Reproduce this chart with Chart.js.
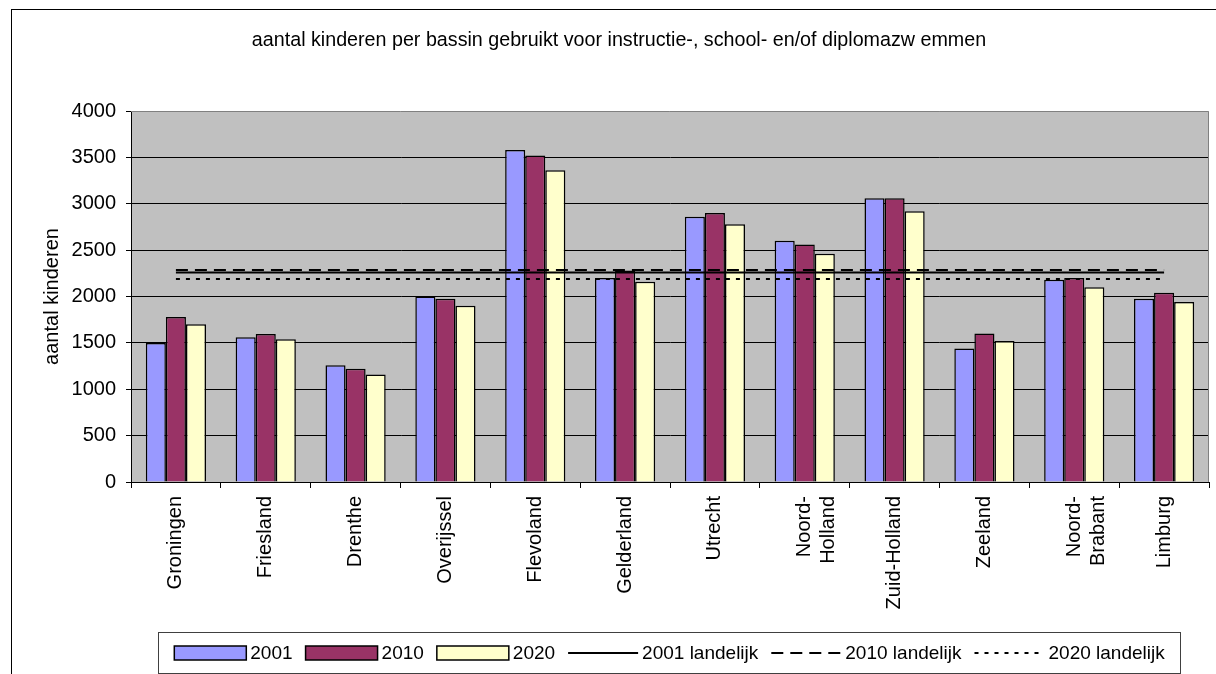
<!DOCTYPE html>
<html>
<head>
<meta charset="utf-8">
<script src="https://cdn.jsdelivr.net/npm/chart.js@4.4.1/dist/chart.umd.min.js"></script>
<style>
  html, body { margin: 0; padding: 0; background: #fff; }
  #wrap { width: 1216px; height: 674px; position: relative; }
</style>
</head>
<body>
<div id="wrap"><canvas id="chart" width="1216" height="674"></canvas></div>
<script>
const provinces = ['Groningen', 'Friesland', 'Drenthe', 'Overijssel', 'Flevoland', 'Gelderland',
    'Utrecht', ['Noord-', 'Holland'], 'Zuid-Holland', 'Zeeland', ['Noord-', 'Brabant'], 'Limburg'];
const kids2001 = [1500, 1560, 1260, 2000, 3580, 2200, 2860, 2600, 3060, 1440, 2180, 1975];
const kids2010 = [1780, 1595, 1220, 1975, 3520, 2280, 2900, 2560, 3060, 1600, 2200, 2040];
const kids2020 = [1700, 1540, 1160, 1900, 3360, 2160, 2780, 2460, 2920, 1520, 2100, 1940];
const landelijk2001 = [2260, 2260, 2260, 2260, 2260, 2260, 2260, 2260, 2260, 2260, 2260, 2260];
const landelijk2010 = [2285, 2285, 2285, 2285, 2285, 2285, 2285, 2285, 2285, 2285, 2285, 2285];
const landelijk2020 = [2190, 2190, 2190, 2190, 2190, 2190, 2190, 2190, 2190, 2190, 2190, 2190];
const yTicks = [0, 500, 1000, 1500, 2000, 2500, 3000, 3500, 4000];

const chartTitle = 'aantal kinderen per bassin gebruikt voor instructie-, school- en/of diplomazw emmen';
const FONT = 'Liberation Sans, Arial, sans-serif';

// frame, plot background, title and legend box like the spreadsheet chart
const frame = {
    id: 'frame',
    beforeDraw(chart) {
        const c = chart.ctx, a = chart.chartArea;
        c.save();
        c.strokeStyle = '#000';
        c.lineWidth = 1;
        c.strokeRect(11.5, 9.5, 1400, 900);
        c.fillStyle = '#c0c0c0';
        c.fillRect(a.left, a.top, a.right - a.left, a.bottom - a.top);
        c.fillStyle = '#000';
        c.font = '19.7px ' + FONT;
        c.textAlign = 'center';
        c.textBaseline = 'middle';
        c.fillText(chartTitle, 619, 41);
        c.restore();
    },
    afterDatasetsDraw(chart) {
        const c = chart.ctx, a = chart.chartArea;
        c.save();
        c.strokeStyle = '#808080';
        c.lineWidth = 1;
        c.beginPath();
        c.moveTo(a.left, a.top + 0.5);
        c.lineTo(a.right - 0.5, a.top + 0.5);
        c.lineTo(a.right - 0.5, a.bottom);
        c.stroke();
        c.restore();
    },
    afterDraw(chart) {
        const c = chart.ctx;
        const box = {x: 158.5, y: 632.5, w: 1022, h: 41};
        c.save();
        c.strokeStyle = '#404040';
        c.lineWidth = 1;
        c.strokeRect(box.x, box.y, box.w, box.h);
        c.font = '19px ' + FONT;
        c.textBaseline = 'middle';
        c.textAlign = 'left';
        const cy = box.y + box.h / 2;
        const items = chart.data.datasets.map(ds => ({ds, sw: ds.type === 'line' ? 70 : 72, tw: c.measureText(ds.label).width}));
        const total = items.reduce((s, it) => s + it.sw + 4 + it.tw, 0) + 13 * (items.length - 1);
        let x = box.x + (box.w - total) / 2;
        items.forEach(it => {
            const ds = it.ds;
            if (ds.type === 'line') {
                c.strokeStyle = ds.borderColor;
                c.lineWidth = ds.borderWidth;
                c.setLineDash(ds.borderDash || []);
                c.beginPath();
                c.moveTo(x, cy);
                c.lineTo(x + it.sw, cy);
                c.stroke();
                c.setLineDash([]);
            } else {
                c.fillStyle = ds.backgroundColor;
                c.fillRect(x, cy - 7, it.sw, 14);
                c.strokeStyle = '#000';
                c.lineWidth = 1.5;
                c.strokeRect(x, cy - 7, it.sw, 14);
            }
            x += it.sw + 4;
            c.fillStyle = '#000';
            c.fillText(ds.label, x, cy + 1);
            x += it.tw + 13;
        });
        c.restore();
    }
};

const ctx = document.getElementById('chart').getContext('2d');
const barStyle = {borderColor: '#000', borderWidth: 1.5, categoryPercentage: 0.67, barPercentage: 1, order: 1};
const lineStyle = {type: 'line', borderColor: '#000', borderWidth: 2, pointRadius: 0, fill: false, order: 0};

new Chart(ctx, {
    type: 'bar',
    data: {
        labels: provinces,
        datasets: [
            {label: '2001', data: kids2001, backgroundColor: '#9999ff', ...barStyle},
            {label: '2010', data: kids2010, backgroundColor: '#993366', ...barStyle},
            {label: '2020', data: kids2020, backgroundColor: '#ffffcc', ...barStyle},
            {label: '2001 landelijk', data: landelijk2001, ...lineStyle},
            {label: '2010 landelijk', data: landelijk2010, ...lineStyle, borderDash: [12, 7]},
            {label: '2020 landelijk', data: landelijk2020, ...lineStyle, borderDash: [4, 6]}
        ]
    },
    options: {
        responsive: false,
        animation: false,
        layout: {padding: {left: 0, right: 7, top: 111, bottom: 0}},
        plugins: {
            legend: {display: false},
            title: {display: false},
            tooltip: {enabled: false}
        },
        scales: {
            x: {
                afterFit(scale) { scale.height = 192; },
                grid: {offset: true, drawOnChartArea: false, drawTicks: true, tickLength: 6, tickColor: '#000'},
                border: {display: true, color: '#000', width: 1},
                ticks: {
                    autoSkip: false, maxRotation: 90, minRotation: 90, padding: 8,
                    color: '#000', font: {family: FONT, size: 20}
                }
            },
            y: {
                min: 0,
                max: 4000,
                afterFit(scale) { scale.width = 131; },
                afterBuildTicks(scale) { scale.ticks = yTicks.map(v => ({value: v})); },
                grid: {
                    color: c => c.tick && c.tick.value === 4000 ? 'rgba(0,0,0,0)' : '#000',
                    tickColor: '#000', tickLength: 5, lineWidth: 1
                },
                border: {display: true, color: '#000', width: 1},
                ticks: {
                    padding: 10, color: '#000', font: {family: FONT, size: 20},
                    callback: v => String(v)
                },
                title: {
                    display: true, text: 'aantal kinderen', color: '#000',
                    font: {family: FONT, size: 20}, padding: {top: 40, bottom: 0}
                }
            }
        }
    },
    plugins: [frame]
});
</script>
</body>
</html>
